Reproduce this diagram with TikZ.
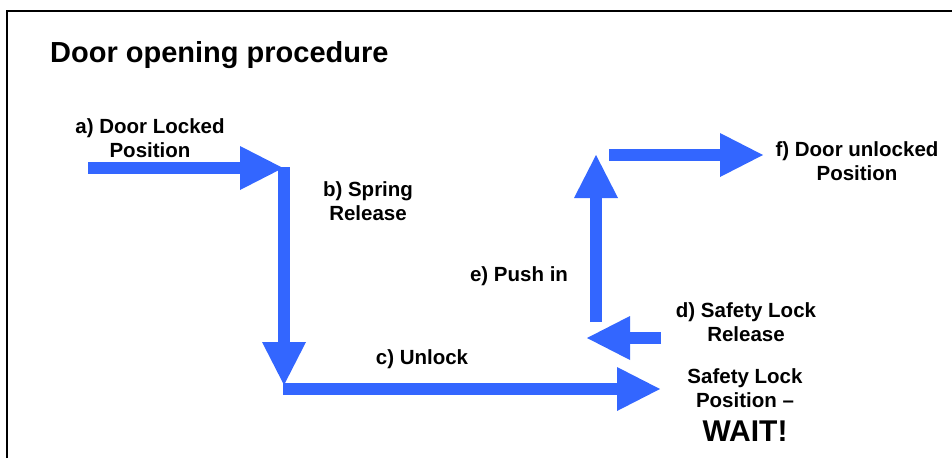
\documentclass[tikz,border=0pt]{standalone}
\usepackage{fontspec}
\setmainfont{Liberation Sans}
\usetikzlibrary{arrows.meta}

\definecolor{flowblue}{HTML}{3366FF}

\begin{document}
\begin{tikzpicture}[x=1pt,y=-1pt,
    blockarrow/.style={draw=flowblue, line width=12pt,
        -{Triangle[width=44pt,length=43pt,line width=0pt]}},
    lbl/.style={align=center, inner sep=0pt,
        font=\fontsize{20.5}{24.5}\selectfont\bfseries}]
    \useasboundingbox (0,0) rectangle (952,458);

    % Draw the frame
    \draw[line width=2.5pt] (7,458) -- (7,11) -- (952,11);

    % Title
    \node[anchor=base west, inner sep=0pt,
        font=\fontsize{29}{33}\selectfont\bfseries] (title) at (50,62) {Door opening procedure};

    % Arrow ends
    \coordinate (a0) at (88,168);  \coordinate (a1) at (283,168);
    \coordinate (b0) at (284,167); \coordinate (b1) at (284,385);
    \coordinate (c0) at (283,389); \coordinate (c1) at (660,389);
    \coordinate (d0) at (661,338); \coordinate (d1) at (587,338);
    \coordinate (e0) at (596,322); \coordinate (e1) at (596,155);
    \coordinate (f0) at (609,155); \coordinate (f1) at (763,155);

    % Draw arrows
    \draw[blockarrow] (a0) -- (a1);
    \draw[blockarrow] (b0) -- (b1);
    \draw[blockarrow] (c0) -- (c1);
    \draw[blockarrow] (d0) -- (d1);
    \draw[blockarrow] (e0) -- (e1);
    \draw[blockarrow] (f0) -- (f1);

    % Labels
    \node[lbl] (locked) at (150,138) {a) Door Locked\\Position};
    \node[lbl] (spring) at (368,201) {b) Spring\\Release};
    \node[lbl] (unlock) at (422,359) {c) Unlock};
    \node[lbl] (safety) at (746,322) {d) Safety Lock\\Release};
    \node[lbl] (push) at (519,276) {e) Push in};
    \node[lbl] (unlocked) at (857,161) {f) Door unlocked\\Position};
    \node[lbl, anchor=base] (wait) at (745,441) {Safety Lock\\Position --\\[9pt]{\fontsize{30}{30}\selectfont WAIT!}};
\end{tikzpicture}
\end{document}
